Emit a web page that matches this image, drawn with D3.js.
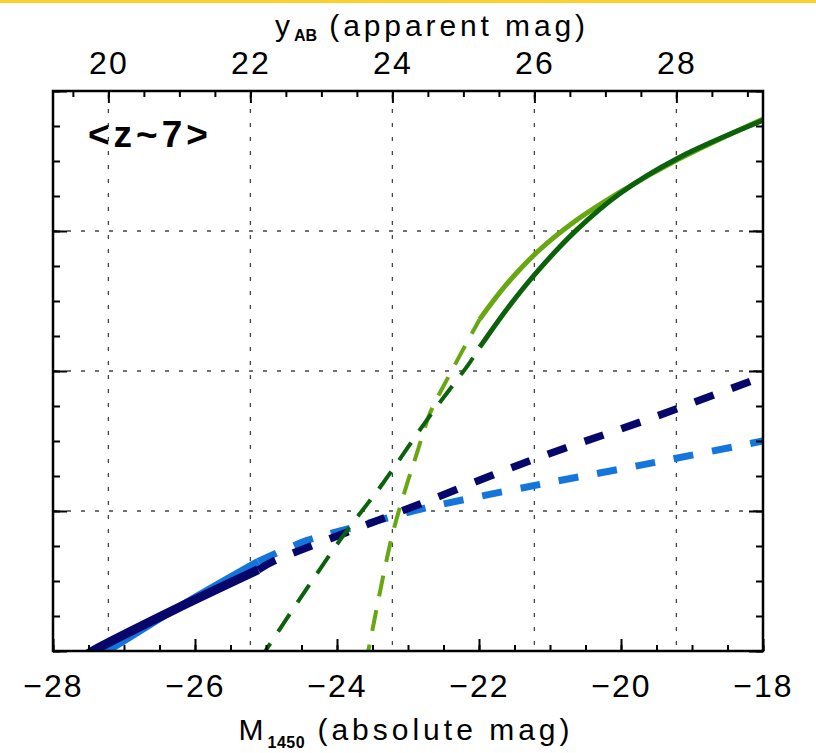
<!DOCTYPE html>
<html>
<head>
<meta charset="utf-8">
<script src="https://cdn.jsdelivr.net/npm/d3@7"></script>
<style>
  body { margin: 0; background: #fff; }
  text { font-family: "Liberation Sans", Arial, sans-serif; fill: #000; }
</style>
</head>
<body>
<div id="container"></div>
<script>
/* CONSTANTS AND GLOBALS */
const width = 816,
  height = 753,
  margin = { top: 91, bottom: 102, left: 53, right: 53 };

// offset between absolute (M1450) and apparent (yAB) magnitude at z~7
const magOffset = 47.22;

/* DATA */
// bright-end fit #1 (navy)
const navyM   = [-27.60, -27.44, -26.31, -25.11, -24.90, -23.85, -22.83, -21.28, -19.70, -18.00];
const navyPhi = [-12.05, -12.00, -11.71, -11.42, -11.36, -11.15, -10.95, -10.64, -10.36, -10.04];
// bright-end fit #2 (light blue)
const blueM   = [-27.40, -27.23, -26.21, -25.11, -24.42, -23.86, -22.76, -21.14, -19.49, -18.00];
const bluePhi = [-12.05, -12.00, -11.68, -11.36, -11.21, -11.13, -10.98, -10.81, -10.65, -10.50];
// faint-end fit #1 (dark green)
const dkGreenM   = [-25.10, -25.01, -23.96, -23.35, -22.72, -22.13, -21.99, -21.61, -21.18, -20.62, -20.01, -19.20, -18.00];
const dkGreenPhi = [-12.07, -12.00, -11.21, -10.80, -10.34, -9.94, -9.83, -9.56, -9.29, -8.99, -8.73, -8.48, -8.21];
// faint-end fit #2 (light green)
const ltGreenM   = [-23.60, -23.56, -23.23, -23.04, -22.87, -22.69, -22.45, -21.99, -21.61, -21.18, -20.62, -20.01, -19.20, -18.00];
const ltGreenPhi = [-12.10, -12.00, -11.19, -10.85, -10.58, -10.30, -10.06, -9.63, -9.38, -9.15, -8.92, -8.72, -8.49, -8.20];

// magnitude ranges covered by the data (solid), the rest is extrapolated (dashed)
const brightLimit = -25.10; // blues solid brighter than this
const faintLimit = -21.99;  // greens solid fainter than this

const bottomTicks = [-28, -26, -24, -22, -20, -18];
const topTicks = [20, 22, 24, 26, 28];
const yMajor = [-11, -10, -9];

const series = [
  { name: "blue",    M: blueM,    phi: bluePhi,    color: "#1475dc", wSolid: 7, wDash: 7, dash: "20,19", solid: d => d[0] <= brightLimit },
  { name: "navy",    M: navyM,    phi: navyPhi,    color: "#07076b", wSolid: 9, wDash: 7.5, dash: "20,19", solid: d => d[0] <= brightLimit },
  { name: "ltgreen", M: ltGreenM, phi: ltGreenPhi, color: "#67a812", wSolid: 5, wDash: 4, dash: "21,14", solid: d => d[0] >= faintLimit },
  { name: "dkgreen", M: dkGreenM, phi: dkGreenPhi, color: "#0b620b", wSolid: 5, wDash: 4, dash: "21,14", solid: d => d[0] >= faintLimit }
];

/* SCALES */
const xScale = d3.scaleLinear()
  .domain([-28, -18])
  .range([margin.left, width - margin.right]);

const xTop = d3.scaleLinear()
  .domain([-28 + magOffset, -18 + magOffset])
  .range([margin.left, width - margin.right]);

const yScale = d3.scaleLinear()
  .domain([-12, -8])
  .range([height - margin.bottom, margin.top]);

/* HTML ELEMENTS */
const svg = d3.select("#container")
  .append("svg")
  .attr("width", width)
  .attr("height", height);

// yellow strip on top
svg.append("rect")
  .attr("x", 0).attr("y", 0)
  .attr("width", width).attr("height", 3)
  .attr("fill", "#fbd02a");

svg.append("clipPath")
  .attr("id", "plotclip")
  .append("rect")
  .attr("x", margin.left)
  .attr("y", margin.top)
  .attr("width", width - margin.left - margin.right)
  .attr("height", height - margin.top - margin.bottom);

// grid
const grid = svg.append("g")
  .attr("stroke", "#444")
  .attr("stroke-width", 1.3)
  .attr("stroke-dasharray", "4,10");

grid.selectAll(".vgrid")
  .data(topTicks)
  .join("line")
  .attr("class", "vgrid")
  .attr("x1", d => xTop(d)).attr("x2", d => xTop(d))
  .attr("y1", margin.top + 4).attr("y2", height - margin.bottom);

grid.selectAll(".hgrid")
  .data(yMajor)
  .join("line")
  .attr("class", "hgrid")
  .attr("x1", margin.left).attr("x2", width - margin.right)
  .attr("y1", d => yScale(d)).attr("y2", d => yScale(d));

// curves
const line = d3.line()
  .x(d => xScale(d[0]))
  .y(d => yScale(d[1]))
  .curve(d3.curveCatmullRom.alpha(0.5));

const curves = svg.append("g").attr("clip-path", "url(#plotclip)");

series.forEach(s => {
  const pts = s.M.map((m, i) => [m, s.phi[i]]);
  const solidPts = pts.filter(s.solid);
  const dashPts = pts.filter(d => !s.solid(d));
  // join the two pieces at the boundary point
  if (s.solid(pts[0])) dashPts.unshift(solidPts[solidPts.length - 1]);
  else dashPts.push(solidPts[0]);

  curves.append("path")
    .attr("d", line(dashPts))
    .attr("fill", "none")
    .attr("stroke", s.color)
    .attr("stroke-width", s.wDash)
    .attr("stroke-dasharray", s.dash);

  curves.append("path")
    .attr("d", line(solidPts))
    .attr("fill", "none")
    .attr("stroke", s.color)
    .attr("stroke-width", s.wSolid);
});

// axes with inward ticks
const plotH = height - margin.top - margin.bottom;
const plotW = width - margin.left - margin.right;

function minorTicks(lo, hi, step) {
  return d3.range(Math.ceil(lo / step) * step, hi + 1e-9, step);
}

const axisStyle = g => {
  g.select(".domain").remove();
  g.selectAll(".tick line").attr("stroke", "#000").attr("stroke-width", 2);
};

// bottom
svg.append("g")
  .attr("transform", `translate(0,${height - margin.bottom})`)
  .call(d3.axisBottom(xScale).tickValues(minorTicks(-28, -18, 0.5)).tickSize(-6).tickFormat(""))
  .call(axisStyle);
svg.append("g")
  .attr("transform", `translate(0,${height - margin.bottom})`)
  .call(d3.axisBottom(xScale).tickValues(bottomTicks).tickSize(-12).tickFormat(d => d3.format("d")(d).replace("-", "\u2212")))
  .call(axisStyle)
  .call(g => g.selectAll("text")
    .attr("y", 46).attr("dy", 0)
    .attr("font-size", 32)
    .attr("letter-spacing", 2)
    .attr("fill", "#000"));

// top
svg.append("g")
  .attr("transform", `translate(0,${margin.top})`)
  .call(d3.axisTop(xTop).tickValues(minorTicks(-28 + magOffset, -18 + magOffset, 0.5)).tickSize(-6).tickFormat(""))
  .call(axisStyle);
svg.append("g")
  .attr("transform", `translate(0,${margin.top})`)
  .call(d3.axisTop(xTop).tickValues(topTicks).tickSize(-12).tickFormat(d3.format("d")))
  .call(axisStyle)
  .call(g => g.selectAll("text")
    .attr("y", -17).attr("dy", 0)
    .attr("font-size", 32)
    .attr("letter-spacing", 2)
    .attr("fill", "#000"));

// left and right
[["left", margin.left, d3.axisLeft], ["right", width - margin.right, d3.axisRight]].forEach(([side, xpos, ax]) => {
  svg.append("g")
    .attr("transform", `translate(${xpos},0)`)
    .call(ax(yScale).tickValues(minorTicks(-12, -8, 0.25)).tickSize(-7).tickFormat(""))
    .call(axisStyle);
  svg.append("g")
    .attr("transform", `translate(${xpos},0)`)
    .call(ax(yScale).tickValues(d3.range(-12, -7.9, 1)).tickSize(-14).tickFormat(""))
    .call(axisStyle);
});

// frame
svg.append("rect")
  .attr("x", margin.left).attr("y", margin.top)
  .attr("width", plotW).attr("height", plotH)
  .attr("fill", "none")
  .attr("stroke", "#000")
  .attr("stroke-width", 2.5);

// titles
const topTitle = svg.append("text")
  .attr("x", (margin.left + width - margin.right) / 2 + 24)
  .attr("y", 36)
  .attr("text-anchor", "middle")
  .attr("font-size", 30)
  .attr("letter-spacing", 3.9);
topTitle.append("tspan").text("y");
topTitle.append("tspan").attr("font-size", 16).attr("font-weight", "bold").attr("dy", 5).attr("letter-spacing", 0).text("AB");
topTitle.append("tspan").attr("dy", -5).text(" (apparent mag)");

const bottomTitle = svg.append("text")
  .attr("x", (margin.left + width - margin.right) / 2 - 2)
  .attr("y", 740)
  .attr("text-anchor", "middle")
  .attr("font-size", 30)
  .attr("letter-spacing", 4);
bottomTitle.append("tspan").text("M");
bottomTitle.append("tspan").attr("font-size", 16).attr("font-weight", "bold").attr("dy", 8).attr("letter-spacing", 0.5).text("1450");
bottomTitle.append("tspan").attr("dy", -8).text(" (absolute mag)");

svg.append("text")
  .attr("x", 88)
  .attr("y", 147)
  .attr("font-size", 37)
  .attr("font-weight", "bold")
  .attr("letter-spacing", 4)
  .text("<z~7>");
</script>
</body>
</html>
